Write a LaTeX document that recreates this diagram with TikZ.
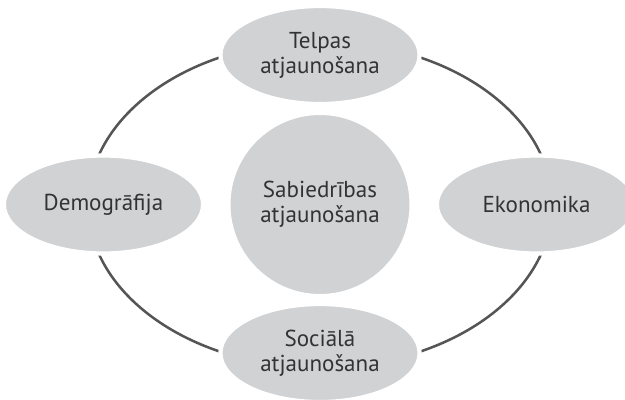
\documentclass[tikz,border=0pt]{standalone}
\usepackage{fontspec}
\setmainfont{PT Sans}
\usetikzlibrary{shapes.geometric,backgrounds}
\definecolor{bubble}{HTML}{D1D2D4}
\definecolor{ringline}{HTML}{555555}
\definecolor{txt}{HTML}{333333}
\tikzset{
  topic/.style={ellipse, fill=bubble, draw=white, line width=3pt,
    minimum width=4.98cm, minimum height=2.45cm, inner sep=0pt,
    align=center, text=txt, font=\fontsize{16.4}{17.8}\selectfont},
  core/.style={topic, circle, minimum size=4.58cm},
  ring/.style={draw=ringline, line width=1.8pt}
}

\begin{document}
\begin{tikzpicture}
\useasboundingbox (0,0) rectangle (15.625,9.975);
\clip (0,0) rectangle (15.625,9.975);
\node [core] (core) at (8,4.8625) {Sabiedrības\\atjaunošana};
\node [topic] (telpas) at (8,8.6) {Telpas\\atjaunošana};
\node [topic] (demo) at (2.5875,4.8625) {Demogrāfija};
\node [topic] (eko) at (13.4125,4.8625) {Ekonomika};
\node [topic] (soc) at (8,1.15) {Sociālā\\atjaunošana};
\begin{scope}[on background layer]
\draw [ring] (core) ellipse [x radius=5.8, y radius=4.075];
\end{scope}
\end{tikzpicture}
\end{document}
